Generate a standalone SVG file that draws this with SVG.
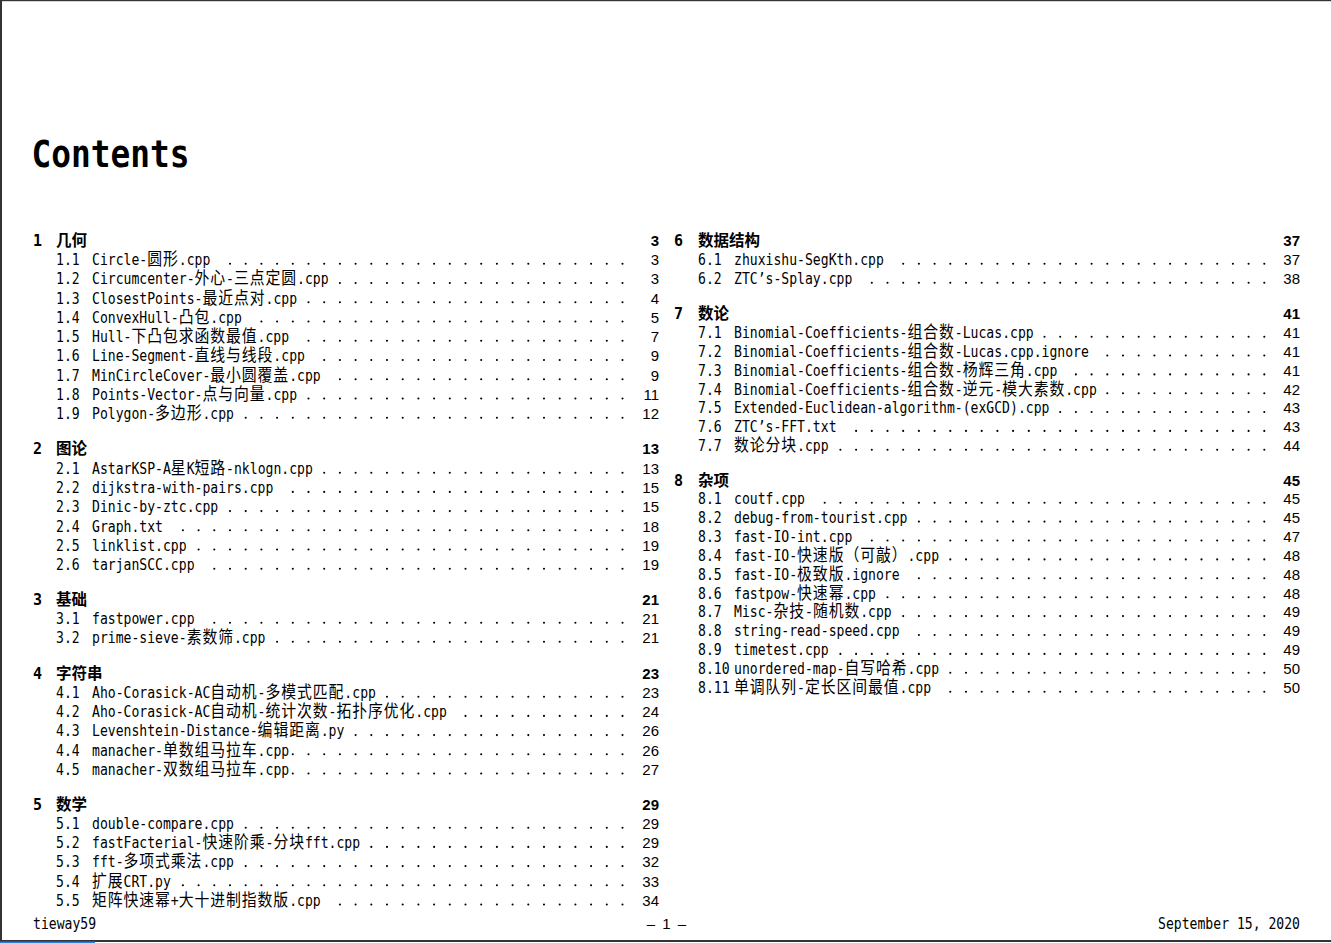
<svg xmlns="http://www.w3.org/2000/svg" width="1331" height="943" viewBox="0 0 1331 943">
<style>
.t{font-family:'DejaVu Sans Mono','Noto Sans CJK SC',monospace;font-size:15px;fill:#000}
.c{font-family:'Noto Sans CJK SC','Noto Sans CJK JP',sans-serif;font-size:17px;letter-spacing:1.06px}
.p{font-family:'Liberation Sans',Arial,sans-serif;font-size:15px;text-anchor:end;fill:#000}
.pb{font-weight:bold}
.sn{font-family:'DejaVu Sans Mono',monospace;font-weight:bold;font-size:15px;fill:#000}
.st{font-family:'Noto Sans CJK SC','Noto Sans CJK JP',sans-serif;font-weight:bold;font-size:15.5px;fill:#000}
.title{font-family:'DejaVu Sans Mono',monospace;font-weight:bold;font-size:38px;fill:#000}
.d line{stroke:#000;stroke-width:2.1;stroke-dasharray:0 15.7;stroke-linecap:round;fill:none}
.end{text-anchor:end}
.mid{text-anchor:middle}
</style>
<rect width="1331" height="943" fill="#fff"/>
<g id="frame">
<rect x="0" y="0" width="1331" height="1.2" fill="#333"/>
<rect x="0" y="0" width="2" height="942" fill="#333"/>
<rect x="0" y="940" width="1331" height="2" fill="#333"/>
<rect x="0" y="941.5" width="95" height="1.5" fill="#2a7de1"/>
</g>
<text id="heading" class="title" x="31.5" y="166.5" textLength="158" lengthAdjust="spacingAndGlyphs">Contents</text>

<g id="sec1">
<text class="sn" x="33" y="246">1</text><text class="st" x="56" y="246">几何</text><text class="p pb" x="659" y="246">3</text>
<text class="t" transform="matrix(.8736 0 0 1 56 265)">1.1</text><text class="t" transform="matrix(.8736 0 0 1 92 265)">Circle-<tspan class="c">圆形</tspan>.cpp</text><text class="p" x="659" y="265">3</text>
<text class="t" transform="matrix(.8736 0 0 1 56 284.25)">1.2</text><text class="t" transform="matrix(.8736 0 0 1 92 284.25)">Circumcenter-<tspan class="c">外心</tspan>-<tspan class="c">三点定圆</tspan>.cpp</text><text class="p" x="659" y="284.25">3</text>
<text class="t" transform="matrix(.8736 0 0 1 56 303.5)">1.3</text><text class="t" transform="matrix(.8736 0 0 1 92 303.5)">ClosestPoints-<tspan class="c">最近点对</tspan>.cpp</text><text class="p" x="659" y="303.5">4</text>
<text class="t" transform="matrix(.8736 0 0 1 56 322.75)">1.4</text><text class="t" transform="matrix(.8736 0 0 1 92 322.75)">ConvexHull-<tspan class="c">凸包</tspan>.cpp</text><text class="p" x="659" y="322.75">5</text>
<text class="t" transform="matrix(.8736 0 0 1 56 342)">1.5</text><text class="t" transform="matrix(.8736 0 0 1 92 342)">Hull-<tspan class="c">下凸包求函数最值</tspan>.cpp</text><text class="p" x="659" y="342">7</text>
<text class="t" transform="matrix(.8736 0 0 1 56 361.25)">1.6</text><text class="t" transform="matrix(.8736 0 0 1 92 361.25)">Line-Segment-<tspan class="c">直线与线段</tspan>.cpp</text><text class="p" x="659" y="361.25">9</text>
<text class="t" transform="matrix(.8736 0 0 1 56 380.5)">1.7</text><text class="t" transform="matrix(.8736 0 0 1 92 380.5)">MinCircleCover-<tspan class="c">最小圆覆盖</tspan>.cpp</text><text class="p" x="659" y="380.5">9</text>
<text class="t" transform="matrix(.8736 0 0 1 56 399.75)">1.8</text><text class="t" transform="matrix(.8736 0 0 1 92 399.75)">Points-Vector-<tspan class="c">点与向量</tspan>.cpp</text><text class="p" x="659" y="399.75">11</text>
<text class="t" transform="matrix(.8736 0 0 1 56 419)">1.9</text><text class="t" transform="matrix(.8736 0 0 1 92 419)">Polygon-<tspan class="c">多边形</tspan>.cpp</text><text class="p" x="659" y="419">12</text>
</g>

<g id="sec2">
<text class="sn" x="33" y="454">2</text><text class="st" x="56" y="454">图论</text><text class="p pb" x="659" y="454">13</text>
<text class="t" transform="matrix(.8736 0 0 1 56 474)">2.1</text><text class="t" transform="matrix(.8736 0 0 1 92 474)">AstarKSP-A<tspan class="c">星</tspan>K<tspan class="c">短路</tspan>-nklogn.cpp</text><text class="p" x="659" y="474">13</text>
<text class="t" transform="matrix(.8736 0 0 1 56 493.2)">2.2</text><text class="t" transform="matrix(.8736 0 0 1 92 493.2)">dijkstra-with-pairs.cpp</text><text class="p" x="659" y="493.2">15</text>
<text class="t" transform="matrix(.8736 0 0 1 56 512.4)">2.3</text><text class="t" transform="matrix(.8736 0 0 1 92 512.4)">Dinic-by-ztc.cpp</text><text class="p" x="659" y="512.4">15</text>
<text class="t" transform="matrix(.8736 0 0 1 56 531.6)">2.4</text><text class="t" transform="matrix(.8736 0 0 1 92 531.6)">Graph.txt</text><text class="p" x="659" y="531.6">18</text>
<text class="t" transform="matrix(.8736 0 0 1 56 550.8)">2.5</text><text class="t" transform="matrix(.8736 0 0 1 92 550.8)">linklist.cpp</text><text class="p" x="659" y="550.8">19</text>
<text class="t" transform="matrix(.8736 0 0 1 56 570)">2.6</text><text class="t" transform="matrix(.8736 0 0 1 92 570)">tarjanSCC.cpp</text><text class="p" x="659" y="570">19</text>
</g>

<g id="sec3">
<text class="sn" x="33" y="605">3</text><text class="st" x="56" y="605">基础</text><text class="p pb" x="659" y="605">21</text>
<text class="t" transform="matrix(.8736 0 0 1 56 624)">3.1</text><text class="t" transform="matrix(.8736 0 0 1 92 624)">fastpower.cpp</text><text class="p" x="659" y="624">21</text>
<text class="t" transform="matrix(.8736 0 0 1 56 643)">3.2</text><text class="t" transform="matrix(.8736 0 0 1 92 643)">prime-sieve-<tspan class="c">素数筛</tspan>.cpp</text><text class="p" x="659" y="643">21</text>
</g>

<g id="sec4">
<text class="sn" x="33" y="679">4</text><text class="st" x="56" y="679">字符串</text><text class="p pb" x="659" y="679">23</text>
<text class="t" transform="matrix(.8736 0 0 1 56 698)">4.1</text><text class="t" transform="matrix(.8736 0 0 1 92 698)">Aho-Corasick-AC<tspan class="c">自动机</tspan>-<tspan class="c">多模式匹配</tspan>.cpp</text><text class="p" x="659" y="698">23</text>
<text class="t" transform="matrix(.8736 0 0 1 56 717.2)">4.2</text><text class="t" transform="matrix(.8736 0 0 1 92 717.2)">Aho-Corasick-AC<tspan class="c">自动机</tspan>-<tspan class="c">统计次数</tspan>-<tspan class="c">拓扑序优化</tspan>.cpp</text><text class="p" x="659" y="717.2">24</text>
<text class="t" transform="matrix(.8736 0 0 1 56 736.4)">4.3</text><text class="t" transform="matrix(.8736 0 0 1 92 736.4)">Levenshtein-Distance-<tspan class="c">编辑距离</tspan>.py</text><text class="p" x="659" y="736.4">26</text>
<text class="t" transform="matrix(.8736 0 0 1 56 755.6)">4.4</text><text class="t" transform="matrix(.8736 0 0 1 92 755.6)">manacher-<tspan class="c">单数组马拉车</tspan>.cpp</text><text class="p" x="659" y="755.6">26</text>
<text class="t" transform="matrix(.8736 0 0 1 56 774.8)">4.5</text><text class="t" transform="matrix(.8736 0 0 1 92 774.8)">manacher-<tspan class="c">双数组马拉车</tspan>.cpp</text><text class="p" x="659" y="774.8">27</text>
</g>

<g id="sec5">
<text class="sn" x="33" y="810">5</text><text class="st" x="56" y="810">数学</text><text class="p pb" x="659" y="810">29</text>
<text class="t" transform="matrix(.8736 0 0 1 56 829)">5.1</text><text class="t" transform="matrix(.8736 0 0 1 92 829)">double-compare.cpp</text><text class="p" x="659" y="829">29</text>
<text class="t" transform="matrix(.8736 0 0 1 56 848.2)">5.2</text><text class="t" transform="matrix(.8736 0 0 1 92 848.2)">fastFacterial-<tspan class="c">快速阶乘</tspan>-<tspan class="c">分块</tspan>fft.cpp</text><text class="p" x="659" y="848.2">29</text>
<text class="t" transform="matrix(.8736 0 0 1 56 867.4)">5.3</text><text class="t" transform="matrix(.8736 0 0 1 92 867.4)">fft-<tspan class="c">多项式乘法</tspan>.cpp</text><text class="p" x="659" y="867.4">32</text>
<text class="t" transform="matrix(.8736 0 0 1 56 886.6)">5.4</text><text class="t" transform="matrix(.8736 0 0 1 92 886.6)"><tspan class="c">扩展</tspan>CRT.py</text><text class="p" x="659" y="886.6">33</text>
<text class="t" transform="matrix(.8736 0 0 1 56 905.8)">5.5</text><text class="t" transform="matrix(.8736 0 0 1 92 905.8)"><tspan class="c">矩阵快速幂</tspan>+<tspan class="c">大十进制指数版</tspan>.cpp</text><text class="p" x="659" y="905.8">34</text>
</g>

<g id="sec6">
<text class="sn" x="674" y="246">6</text><text class="st" x="698" y="246">数据结构</text><text class="p pb" x="1300" y="246">37</text>
<text class="t" transform="matrix(.8736 0 0 1 698 265)">6.1</text><text class="t" transform="matrix(.8736 0 0 1 734 265)">zhuxishu-SegKth.cpp</text><text class="p" x="1300" y="265">37</text>
<text class="t" transform="matrix(.8736 0 0 1 698 284)">6.2</text><text class="t" transform="matrix(.8736 0 0 1 734 284)">ZTC’s-Splay.cpp</text><text class="p" x="1300" y="284">38</text>
</g>

<g id="sec7">
<text class="sn" x="674" y="319">7</text><text class="st" x="698" y="319">数论</text><text class="p pb" x="1300" y="319">41</text>
<text class="t" transform="matrix(.8736 0 0 1 698 338)">7.1</text><text class="t" transform="matrix(.8736 0 0 1 734 338)">Binomial-Coefficients-<tspan class="c">组合数</tspan>-Lucas.cpp</text><text class="p" x="1300" y="338">41</text>
<text class="t" transform="matrix(.8736 0 0 1 698 356.8)">7.2</text><text class="t" transform="matrix(.8736 0 0 1 734 356.8)">Binomial-Coefficients-<tspan class="c">组合数</tspan>-Lucas.cpp.ignore</text><text class="p" x="1300" y="356.8">41</text>
<text class="t" transform="matrix(.8736 0 0 1 698 375.7)">7.3</text><text class="t" transform="matrix(.8736 0 0 1 734 375.7)">Binomial-Coefficients-<tspan class="c">组合数</tspan>-<tspan class="c">杨辉三角</tspan>.cpp</text><text class="p" x="1300" y="375.7">41</text>
<text class="t" transform="matrix(.8736 0 0 1 698 394.5)">7.4</text><text class="t" transform="matrix(.8736 0 0 1 734 394.5)">Binomial-Coefficients-<tspan class="c">组合数</tspan>-<tspan class="c">逆元</tspan>-<tspan class="c">模大素数</tspan>.cpp</text><text class="p" x="1300" y="394.5">42</text>
<text class="t" transform="matrix(.8736 0 0 1 698 413.3)">7.5</text><text class="t" transform="matrix(.8736 0 0 1 734 413.3)">Extended-Euclidean-algorithm-(exGCD).cpp</text><text class="p" x="1300" y="413.3">43</text>
<text class="t" transform="matrix(.8736 0 0 1 698 432.2)">7.6</text><text class="t" transform="matrix(.8736 0 0 1 734 432.2)">ZTC’s-FFT.txt</text><text class="p" x="1300" y="432.2">43</text>
<text class="t" transform="matrix(.8736 0 0 1 698 451)">7.7</text><text class="t" transform="matrix(.8736 0 0 1 734 451)"><tspan class="c">数论分块</tspan>.cpp</text><text class="p" x="1300" y="451">44</text>
</g>

<g id="sec8">
<text class="sn" x="674" y="486">8</text><text class="st" x="698" y="486">杂项</text><text class="p pb" x="1300" y="486">45</text>
<text class="t" transform="matrix(.8736 0 0 1 698 504)">8.1</text><text class="t" transform="matrix(.8736 0 0 1 734 504)">coutf.cpp</text><text class="p" x="1300" y="504">45</text>
<text class="t" transform="matrix(.8736 0 0 1 698 522.9)">8.2</text><text class="t" transform="matrix(.8736 0 0 1 734 522.9)">debug-from-tourist.cpp</text><text class="p" x="1300" y="522.9">45</text>
<text class="t" transform="matrix(.8736 0 0 1 698 541.8)">8.3</text><text class="t" transform="matrix(.8736 0 0 1 734 541.8)">fast-IO-int.cpp</text><text class="p" x="1300" y="541.8">47</text>
<text class="t" transform="matrix(.8736 0 0 1 698 560.7)">8.4</text><text class="t" transform="matrix(.8736 0 0 1 734 560.7)">fast-IO-<tspan class="c">快速版（可敲）</tspan>.cpp</text><text class="p" x="1300" y="560.7">48</text>
<text class="t" transform="matrix(.8736 0 0 1 698 579.6)">8.5</text><text class="t" transform="matrix(.8736 0 0 1 734 579.6)">fast-IO-<tspan class="c">极致版</tspan>.ignore</text><text class="p" x="1300" y="579.6">48</text>
<text class="t" transform="matrix(.8736 0 0 1 698 598.5)">8.6</text><text class="t" transform="matrix(.8736 0 0 1 734 598.5)">fastpow-<tspan class="c">快速幂</tspan>.cpp</text><text class="p" x="1300" y="598.5">48</text>
<text class="t" transform="matrix(.8736 0 0 1 698 617.4)">8.7</text><text class="t" transform="matrix(.8736 0 0 1 734 617.4)">Misc-<tspan class="c">杂技</tspan>-<tspan class="c">随机数</tspan>.cpp</text><text class="p" x="1300" y="617.4">49</text>
<text class="t" transform="matrix(.8736 0 0 1 698 636.3)">8.8</text><text class="t" transform="matrix(.8736 0 0 1 734 636.3)">string-read-speed.cpp</text><text class="p" x="1300" y="636.3">49</text>
<text class="t" transform="matrix(.8736 0 0 1 698 655.2)">8.9</text><text class="t" transform="matrix(.8736 0 0 1 734 655.2)">timetest.cpp</text><text class="p" x="1300" y="655.2">49</text>
<text class="t" transform="matrix(.8736 0 0 1 698 674.1)">8.10</text><text class="t" transform="matrix(.8736 0 0 1 734 674.1)">unordered-map-<tspan class="c">自写哈希</tspan>.cpp</text><text class="p" x="1300" y="674.1">50</text>
<text class="t" transform="matrix(.8736 0 0 1 698 693)">8.11</text><text class="t" transform="matrix(.8736 0 0 1 734 693)"><tspan class="c">单调队列</tspan>-<tspan class="c">定长区间最值</tspan>.cpp</text><text class="p" x="1300" y="693">50</text>
</g>

<g id="leaders" class="d">
<line x1="230.0" y1="263.7" x2="623.5" y2="263.7"/>
<line x1="339.9" y1="282.95" x2="623.5" y2="282.95"/>
<line x1="308.5" y1="302.2" x2="623.5" y2="302.2"/>
<line x1="261.4" y1="321.45" x2="623.5" y2="321.45"/>
<line x1="308.5" y1="340.7" x2="623.5" y2="340.7"/>
<line x1="324.2" y1="359.95" x2="623.5" y2="359.95"/>
<line x1="339.9" y1="379.2" x2="623.5" y2="379.2"/>
<line x1="308.5" y1="398.45" x2="623.5" y2="398.45"/>
<line x1="245.7" y1="417.7" x2="623.5" y2="417.7"/>
<line x1="324.2" y1="472.7" x2="623.5" y2="472.7"/>
<line x1="292.8" y1="491.9" x2="623.5" y2="491.9"/>
<line x1="230.0" y1="511.1" x2="623.5" y2="511.1"/>
<line x1="182.9" y1="530.3" x2="623.5" y2="530.3"/>
<line x1="198.6" y1="549.5" x2="623.5" y2="549.5"/>
<line x1="214.3" y1="568.7" x2="623.5" y2="568.7"/>
<line x1="214.3" y1="622.7" x2="623.5" y2="622.7"/>
<line x1="277.1" y1="641.7" x2="623.5" y2="641.7"/>
<line x1="387.0" y1="696.7" x2="623.5" y2="696.7"/>
<line x1="465.5" y1="715.9" x2="623.5" y2="715.9"/>
<line x1="355.6" y1="735.1" x2="623.5" y2="735.1"/>
<line x1="292.8" y1="754.3" x2="623.5" y2="754.3"/>
<line x1="292.8" y1="773.5" x2="623.5" y2="773.5"/>
<line x1="245.7" y1="827.7" x2="623.5" y2="827.7"/>
<line x1="371.3" y1="846.9" x2="623.5" y2="846.9"/>
<line x1="245.7" y1="866.1" x2="623.5" y2="866.1"/>
<line x1="182.9" y1="885.3" x2="623.5" y2="885.3"/>
<line x1="339.9" y1="904.5" x2="623.5" y2="904.5"/>
<line x1="903.2" y1="263.7" x2="1265.3" y2="263.7"/>
<line x1="871.8" y1="282.7" x2="1265.3" y2="282.7"/>
<line x1="1044.5" y1="336.7" x2="1265.3" y2="336.7"/>
<line x1="1107.3" y1="355.5" x2="1265.3" y2="355.5"/>
<line x1="1075.9" y1="374.4" x2="1265.3" y2="374.4"/>
<line x1="1107.3" y1="393.2" x2="1265.3" y2="393.2"/>
<line x1="1060.2" y1="412.0" x2="1265.3" y2="412.0"/>
<line x1="856.1" y1="430.9" x2="1265.3" y2="430.9"/>
<line x1="840.4" y1="449.7" x2="1265.3" y2="449.7"/>
<line x1="824.7" y1="502.7" x2="1265.3" y2="502.7"/>
<line x1="918.9" y1="521.6" x2="1265.3" y2="521.6"/>
<line x1="871.8" y1="540.5" x2="1265.3" y2="540.5"/>
<line x1="950.3" y1="559.4" x2="1265.3" y2="559.4"/>
<line x1="918.9" y1="578.3" x2="1265.3" y2="578.3"/>
<line x1="887.5" y1="597.2" x2="1265.3" y2="597.2"/>
<line x1="903.2" y1="616.1" x2="1265.3" y2="616.1"/>
<line x1="918.9" y1="635.0" x2="1265.3" y2="635.0"/>
<line x1="840.4" y1="653.9" x2="1265.3" y2="653.9"/>
<line x1="950.3" y1="672.8" x2="1265.3" y2="672.8"/>
<line x1="950.3" y1="691.7" x2="1265.3" y2="691.7"/>
</g>

<g id="footer">
<text class="t" transform="matrix(.8736 0 0 1 33 929)">tieway59</text>
<text class="p mid" x="666.5" y="929" style="word-spacing:3px">– 1 –</text>
<text class="t end" transform="matrix(.8736 0 0 1 1300 929)">September 15, 2020</text>
</g>
</svg>
